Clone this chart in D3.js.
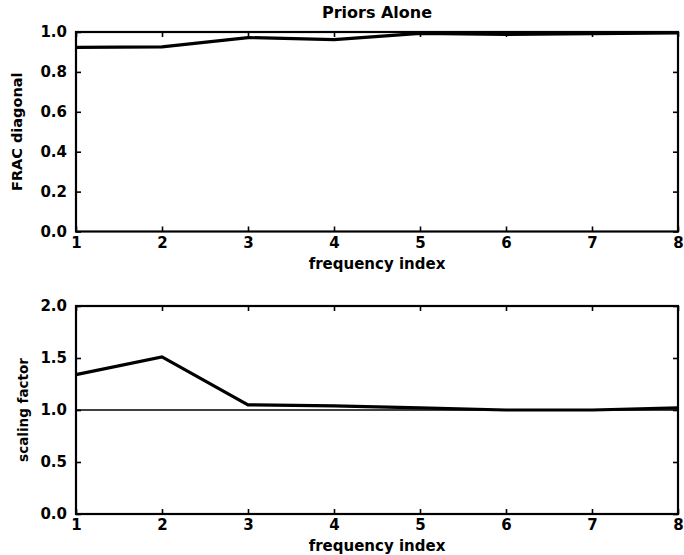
<!DOCTYPE html>
<html>
<head>
<meta charset="utf-8">
<script src="https://cdn.jsdelivr.net/npm/d3@7"></script>
<style>
  html, body { margin: 0; padding: 0; background: #fff; }
  svg { display: block; }
  text { font-family: "DejaVu Sans", sans-serif; font-weight: bold; fill: #000; }
</style>
</head>
<body>
<svg id="chart" width="684" height="555"></svg>
<script>
// Frequency index shared by both panels
const freqIndex = [1, 2, 3, 4, 5, 6, 7, 8];

// Top panel: fraction on the diagonal
const fracDiagonal = [0.923, 0.925, 0.972, 0.962, 0.993, 0.988, 0.992, 0.995];
const fracTicks = [0.0, 0.2, 0.4, 0.6, 0.8, 1.0];

// Bottom panel: scaling factor, with unity reference
const scalingFactor = [1.34, 1.51, 1.05, 1.04, 1.02, 1.0, 1.0, 1.02];
const scalingRef = 1.0;
const scalingTicks = [0.0, 0.5, 1.0, 1.5, 2.0];

const svg = d3.select("#chart");
const left = 76, right = 678;
const tickLen = 5;

const x = d3.scaleLinear().domain([1, 8]).range([left, right]);

function panel(opts) {
  const { top, bottom, yDomain, yTicks, values, ylabel, ylabelX, title, refLine } = opts;
  const y = d3.scaleLinear().domain(yDomain).range([bottom, top]);
  const g = svg.append("g");

  // Bottom axis with inward ticks
  const xAxis = d3.axisBottom(x).tickValues(freqIndex).tickFormat(d3.format("d"))
    .tickSizeInner(-tickLen).tickSizeOuter(0).tickPadding(8);
  const gx = g.append("g").attr("transform", `translate(0,${bottom})`).call(xAxis);
  gx.select(".domain").remove();
  gx.selectAll("line").attr("stroke", "#000").attr("stroke-width", 1.6);
  gx.selectAll("text").style("font-size", "15px").style("font-family", "DejaVu Sans").style("font-weight", "bold").attr("dy", "0.55em");

  // Top axis ticks (mirror)
  const gxt = g.append("g").attr("transform", `translate(0,${top})`)
    .call(d3.axisTop(x).tickValues(freqIndex).tickSizeInner(-tickLen).tickSizeOuter(0).tickFormat(""));
  gxt.select(".domain").remove();
  gxt.selectAll("line").attr("stroke", "#000").attr("stroke-width", 1.6);

  // Left axis
  const yAxis = d3.axisLeft(y).tickValues(yTicks).tickFormat(d3.format(".1f"))
    .tickSizeInner(-tickLen).tickSizeOuter(0).tickPadding(9);
  const gy = g.append("g").attr("transform", `translate(${left},0)`).call(yAxis);
  gy.select(".domain").remove();
  gy.selectAll("line").attr("stroke", "#000").attr("stroke-width", 1.6);
  gy.selectAll("text").style("font-size", "15px").style("font-family", "DejaVu Sans").style("font-weight", "bold");

  // Right axis ticks (mirror)
  const gyr = g.append("g").attr("transform", `translate(${right},0)`)
    .call(d3.axisRight(y).tickValues(yTicks).tickSizeInner(-tickLen).tickSizeOuter(0).tickFormat(""));
  gyr.select(".domain").remove();
  gyr.selectAll("line").attr("stroke", "#000").attr("stroke-width", 1.6);

  // Reference line
  if (refLine !== undefined) {
    g.append("line")
      .attr("x1", x(1)).attr("x2", x(8))
      .attr("y1", y(refLine)).attr("y2", y(refLine))
      .attr("stroke", "#000").attr("stroke-width", 1.5);
  }

  // Data line
  const line = d3.line().x((d, i) => x(freqIndex[i])).y(d => y(d));
  g.append("path").datum(values)
    .attr("d", line)
    .attr("fill", "none").attr("stroke", "#000")
    .attr("stroke-width", 3.2).attr("stroke-linejoin", "miter");

  // Box
  g.append("rect")
    .attr("x", left).attr("y", top)
    .attr("width", right - left).attr("height", bottom - top)
    .attr("fill", "none").attr("stroke", "#000").attr("stroke-width", 2.2);

  // X label
  g.append("text")
    .attr("x", (left + right) / 2).attr("y", bottom + 37)
    .attr("text-anchor", "middle").style("font-size", "15px")
    .text("frequency index");

  // Y label
  g.append("text")
    .attr("transform", `translate(${ylabelX},${(top + bottom) / 2}) rotate(-90)`)
    .attr("text-anchor", "middle").attr("dy", "0.35em")
    .style("font-size", opts.ylabelSize)
    .text(ylabel);

  if (title) {
    g.append("text")
      .attr("x", (left + right) / 2).attr("y", top - 14)
      .attr("text-anchor", "middle").style("font-size", "16px")
      .text(title);
  }
}

panel({
  top: 32, bottom: 231.5, yDomain: [0, 1], yTicks: fracTicks,
  values: fracDiagonal, ylabel: "FRAC diagonal", ylabelX: 17, ylabelSize: "14.5px",
  title: "Priors Alone"
});

panel({
  top: 306, bottom: 514, yDomain: [0, 2], yTicks: scalingTicks,
  values: scalingFactor, ylabel: "scaling factor", ylabelX: 23, ylabelSize: "13.5px",
  refLine: scalingRef
});
</script>
</body>
</html>
